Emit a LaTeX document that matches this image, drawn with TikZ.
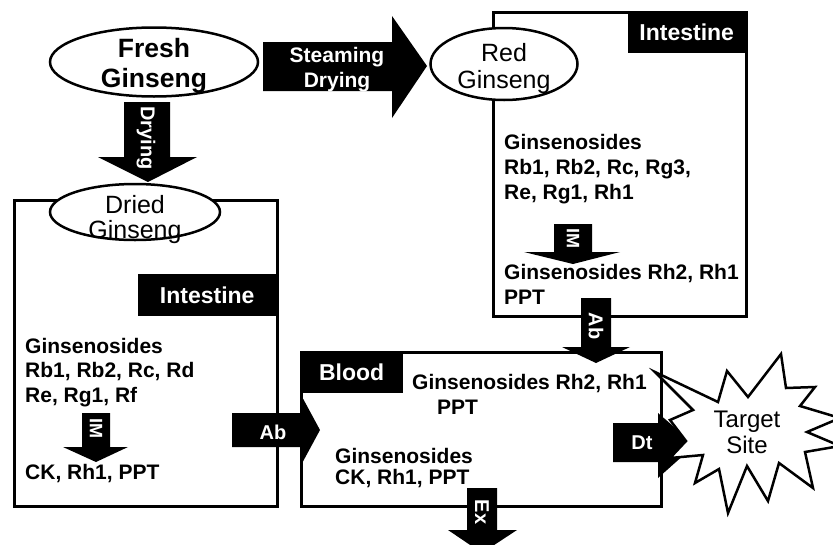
\documentclass[tikz,border=0pt]{standalone}
\usepackage{fontspec}
\setmainfont{Liberation Sans}
\usetikzlibrary{shapes.geometric}
\begin{document}
\begin{tikzpicture}[x=1pt,y=-1pt,
  box/.style={draw, line width=3pt, rectangle, inner sep=0, anchor=north west},
  oval/.style={draw, ellipse, fill=white, line width=2.5pt, inner sep=0},
  blk/.style={fill=black},
  lab/.style={fill=black, text=white, inner sep=0, anchor=north west, font=\bfseries\fontsize{23}{25}\selectfont},
  wtxt/.style={text=white, inner sep=0, font=\bfseries\fontsize{20}{25}\selectfont},
  txt/.style={font=\bfseries\fontsize{21}{25}\selectfont, inner sep=0, anchor=west, text height=15pt, text depth=0pt},
  star/.style={draw, fill=white, line width=2.5pt, line join=miter, miter limit=20}
]
\useasboundingbox (0,0) rectangle (833,544);
\clip (0,0) rectangle (833,544);

% containers
\node[box, minimum width=263pt, minimum height=306pt] (lbox) at (13,199) {};
\node[box, minimum width=253pt, minimum height=304pt] (rbox) at (492,11) {};
\node[box, minimum width=360pt, minimum height=154pt] (bbox) at (300,351) {};

% labels
\node[lab, minimum width=138pt, minimum height=42pt] (lint) at (138,274) {Intestine};
\node[lab, minimum width=117pt, minimum height=42pt] (rint) at (628,11) {Intestine};
\node[lab, minimum width=103pt, minimum height=42pt] (blood) at (300,351) {Blood};

% ellipses
\node[oval, minimum width=208pt, minimum height=69pt] (fresh) at (154,62) {};
\node[font=\bfseries\fontsize{26.5}{30}\selectfont, align=center, inner sep=0] (freshT) at (154,65.5) {Fresh\\Ginseng};
\node[oval, minimum width=170pt, minimum height=56pt] (dried) at (135,212) {};
\node[font=\fontsize{25}{25}\selectfont, align=center, inner sep=0] (driedT) at (135,220) {Dried\\Ginseng};
\node[oval, minimum width=147pt, minimum height=72pt] (red) at (504,64) {};
\node[font=\fontsize{25}{27}\selectfont, align=center, inner sep=0] (redT) at (504,69) {Red\\Ginseng};

% block arrows
\fill[blk] (263,42) -- (392,42) -- (392,16) -- (427,66) -- (392,118) -- (392,91) -- (263,91) -- cycle;
\node[wtxt, align=center, font=\bfseries\fontsize{21}{25}\selectfont] (steamT) at (337,70) {Steaming\\Drying};
\fill[blk] (124,102) -- (170,102) -- (170,157) -- (197,157) -- (148,182) -- (98,157) -- (124,157) -- cycle;
\node[wtxt, rotate=-90] (dryT) at (146,138) {Drying};
\fill[blk] (232,413) -- (300,413) -- (300,393) -- (320,430) -- (300,467) -- (300,447) -- (232,447) -- cycle;
\node[wtxt] (abL) at (273,432) {Ab};
\fill[blk] (82,413) -- (110,413) -- (110,447) -- (128,447) -- (96,462) -- (63,447) -- (82,447) -- cycle;
\node[wtxt, rotate=-90, font=\bfseries\fontsize{18}{20}\selectfont] (imL) at (96,428) {IM};
\fill[blk] (554,224) -- (592,224) -- (592,252) -- (620,252) -- (573,264) -- (524,252) -- (554,252) -- cycle;
\node[wtxt, rotate=-90, font=\bfseries\fontsize{18}{20}\selectfont] (imR) at (573,238) {IM};
\fill[blk] (581,298) -- (611,298) -- (611,347) -- (630,347) -- (596,363) -- (562,347) -- (581,347) -- cycle;
\node[wtxt, rotate=-90] (abD) at (596,326) {Ab};
\fill[blk] (467,488) -- (497,488) -- (497,530) -- (517,530) -- (482,553) -- (448,530) -- (467,530) -- cycle;
\node[wtxt, rotate=-90] (exT) at (482,512) {Ex};
\fill[blk] (613,423) -- (658,423) -- (658,413) -- (695,445) -- (658,478) -- (658,462) -- (613,462) -- cycle;
\node[wtxt] (dtT) at (642,443) {Dt};

% target starburst
\draw[star] (655,372) -- (718,402) -- (727,371) -- (748,397) -- (781,354) -- (786,388)
  -- (815,387) -- (800,406) -- (840,418) -- (807,432) -- (840,446) -- (805,452)
  -- (813,488) -- (779,463) -- (768,501) -- (747,466) -- (728,513) -- (719,469)
  -- (695,483) -- (703,455) -- (670,458) -- (686,441) -- (670,420) -- (693,410) -- cycle;
\node[font=\fontsize{24}{26}\selectfont, align=center, inner sep=0] (target) at (747,432.5) {Target\\Site};

% texts left intestine
\node[txt] (l1) at (25,346) {Ginsenosides};
\node[txt] (l2) at (25,370) {Rb1, Rb2, Rc, Rd};
\node[txt] (l3) at (25,395) {Re, Rg1, Rf};
\node[txt] (l4) at (25,472) {CK, Rh1, PPT};
% texts right intestine
\node[txt] (r1) at (504,142) {Ginsenosides};
\node[txt] (r2) at (504,167) {Rb1, Rb2, Rc, Rg3,};
\node[txt] (r3) at (504,192) {Re, Rg1, Rh1};
\node[txt] (r4) at (504,272) {Ginsenosides Rh2, Rh1};
\node[txt] (r5) at (504,297) {PPT};
% texts blood
\node[txt] (b1) at (412,382) {Ginsenosides Rh2, Rh1};
\node[txt] (b2) at (437,407) {PPT};
\node[txt] (b3) at (335,456) {Ginsenosides};
\node[txt] (b4) at (335,477) {CK, Rh1, PPT};
\end{tikzpicture}
\end{document}
